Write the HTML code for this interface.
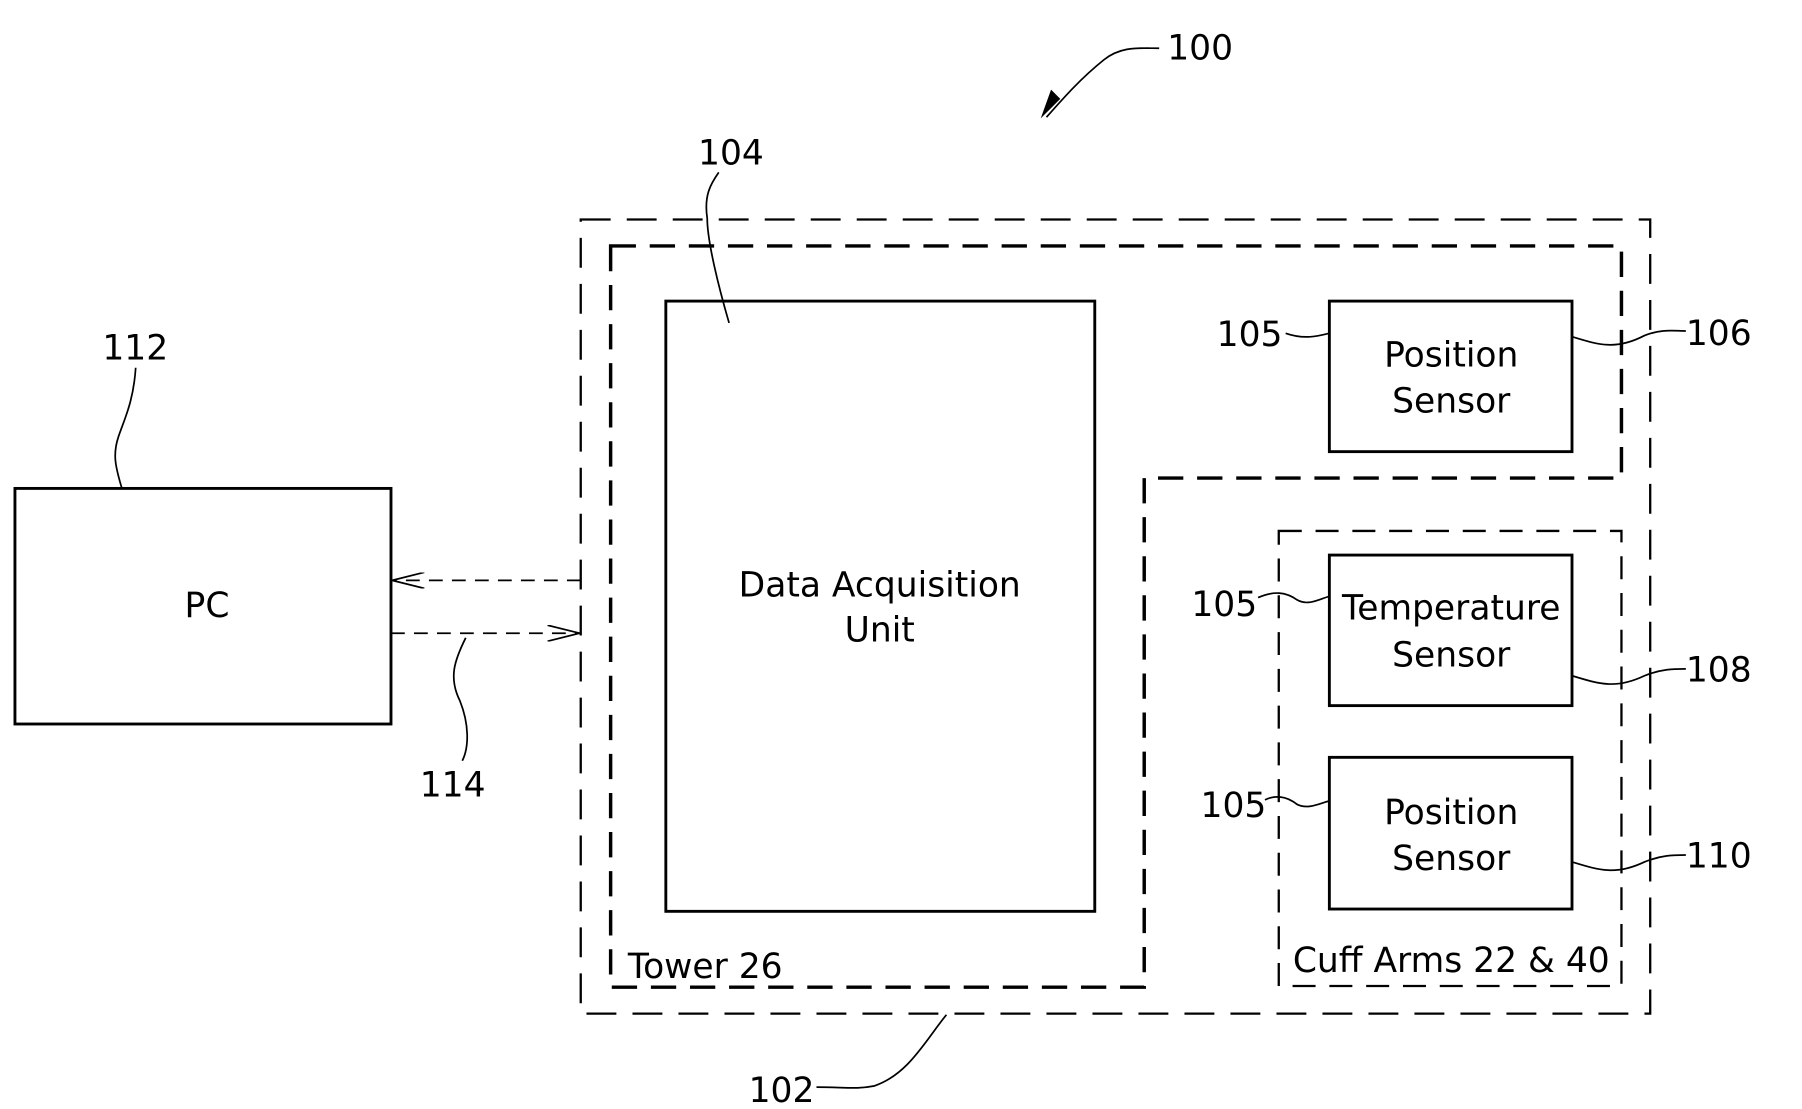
<!DOCTYPE html>
<html><head><style>html,body{margin:0;padding:0;background:#fff;}svg{display:block}</style></head>
<body>
<svg width="1802" height="1109" viewBox="0 0 1567 965" preserveAspectRatio="none" xmlns="http://www.w3.org/2000/svg" font-family="'DejaVu Sans', 'Liberation Sans', sans-serif" font-size="30" fill="#000">
<defs>
<marker id="ah" markerWidth="30" markerHeight="14" refX="28" refY="7" orient="auto" markerUnits="userSpaceOnUse">
<path d="M0,0 L28,7 L0,14" fill="none" stroke="#000" stroke-width="1.5"/>
</marker>
</defs>
<g fill="none" stroke="#000">
<rect x="505" y="191" width="930" height="691" stroke-width="2" stroke-dasharray="26,14"/>
<path d="M531,214 H1410 V416 H995 V859 H531 Z" stroke-width="3" stroke-dasharray="22,12"/>
<rect x="1112" y="462" width="298" height="396" stroke-width="2" stroke-dasharray="20,12"/>
<rect x="579" y="262" width="373" height="531" stroke-width="2.5"/>
<rect x="1156" y="262" width="211" height="131" stroke-width="2.5"/>
<rect x="1156" y="483" width="211" height="131" stroke-width="2.5"/>
<rect x="1156" y="659" width="211" height="132" stroke-width="2.5"/>
<rect x="13" y="425" width="327" height="205" stroke-width="2.5"/>
<line x1="505" y1="505" x2="341" y2="505" stroke-width="1.5" stroke-dasharray="12,8" marker-end="url(#ah)"/>
<line x1="340" y1="551" x2="504" y2="551" stroke-width="1.5" stroke-dasharray="12,8" marker-end="url(#ah)"/>
<g stroke-width="1.5">
<path d="M1008,42 C990,42 975,40 960,52 C940,68 925,85 910,102"/>
<path d="M634,281 C625,250 615,210 615,190 C612,170 618,160 625,150"/>
<path d="M106,425 C100,405 98,395 103,380 C108,365 116,350 118,320"/>
<path d="M1118,290 C1135,296 1148,292 1156,290"/>
<path d="M1367,293 C1390,300 1405,305 1430,292 C1445,286 1455,288 1466,288"/>
<path d="M1094,520 C1108,514 1118,515 1128,522 C1138,528 1150,520 1156,519"/>
<path d="M1367,588 C1390,595 1405,600 1430,588 C1445,582 1455,582 1466,582"/>
<path d="M1100,696 C1108,692 1118,692 1128,700 C1138,705 1150,698 1156,697"/>
<path d="M1367,750 C1390,757 1405,762 1430,750 C1445,744 1455,744 1466,744"/>
<path d="M405,555 C395,575 390,590 400,610 C408,630 408,650 402,662"/>
<path d="M823,883 C805,905 790,935 760,945 C745,948 735,946 710,946"/>
</g>
</g>
<path d="M905,103 L914,78 L922,86 Z"/>
<g text-anchor="middle">
<text x="1262" y="319">Position</text><text x="1262" y="359">Sensor</text>
<text x="1262" y="539">Temperature</text><text x="1262" y="580">Sensor</text>
<text x="1262" y="717">Position</text><text x="1262" y="757">Sensor</text>
<text x="765" y="519">Data Acquisition</text><text x="765" y="558">Unit</text>
<text x="180" y="537">PC</text>
<text x="1262" y="846">Cuff Arms 22 &amp; 40</text>
</g>
<text x="546" y="851">Tower 26</text>
<g font-size="30">
<text x="1015" y="52">100</text>
<text x="607" y="143">104</text>
<text x="89" y="313">112</text>
<text x="1058" y="301">105</text>
<text x="1466" y="300">106</text>
<text x="1036" y="536">105</text>
<text x="1466" y="593">108</text>
<text x="1044" y="711">105</text>
<text x="1466" y="755">110</text>
<text x="365" y="693">114</text>
<text x="651" y="959">102</text>
</g>
</svg>
</body></html>
